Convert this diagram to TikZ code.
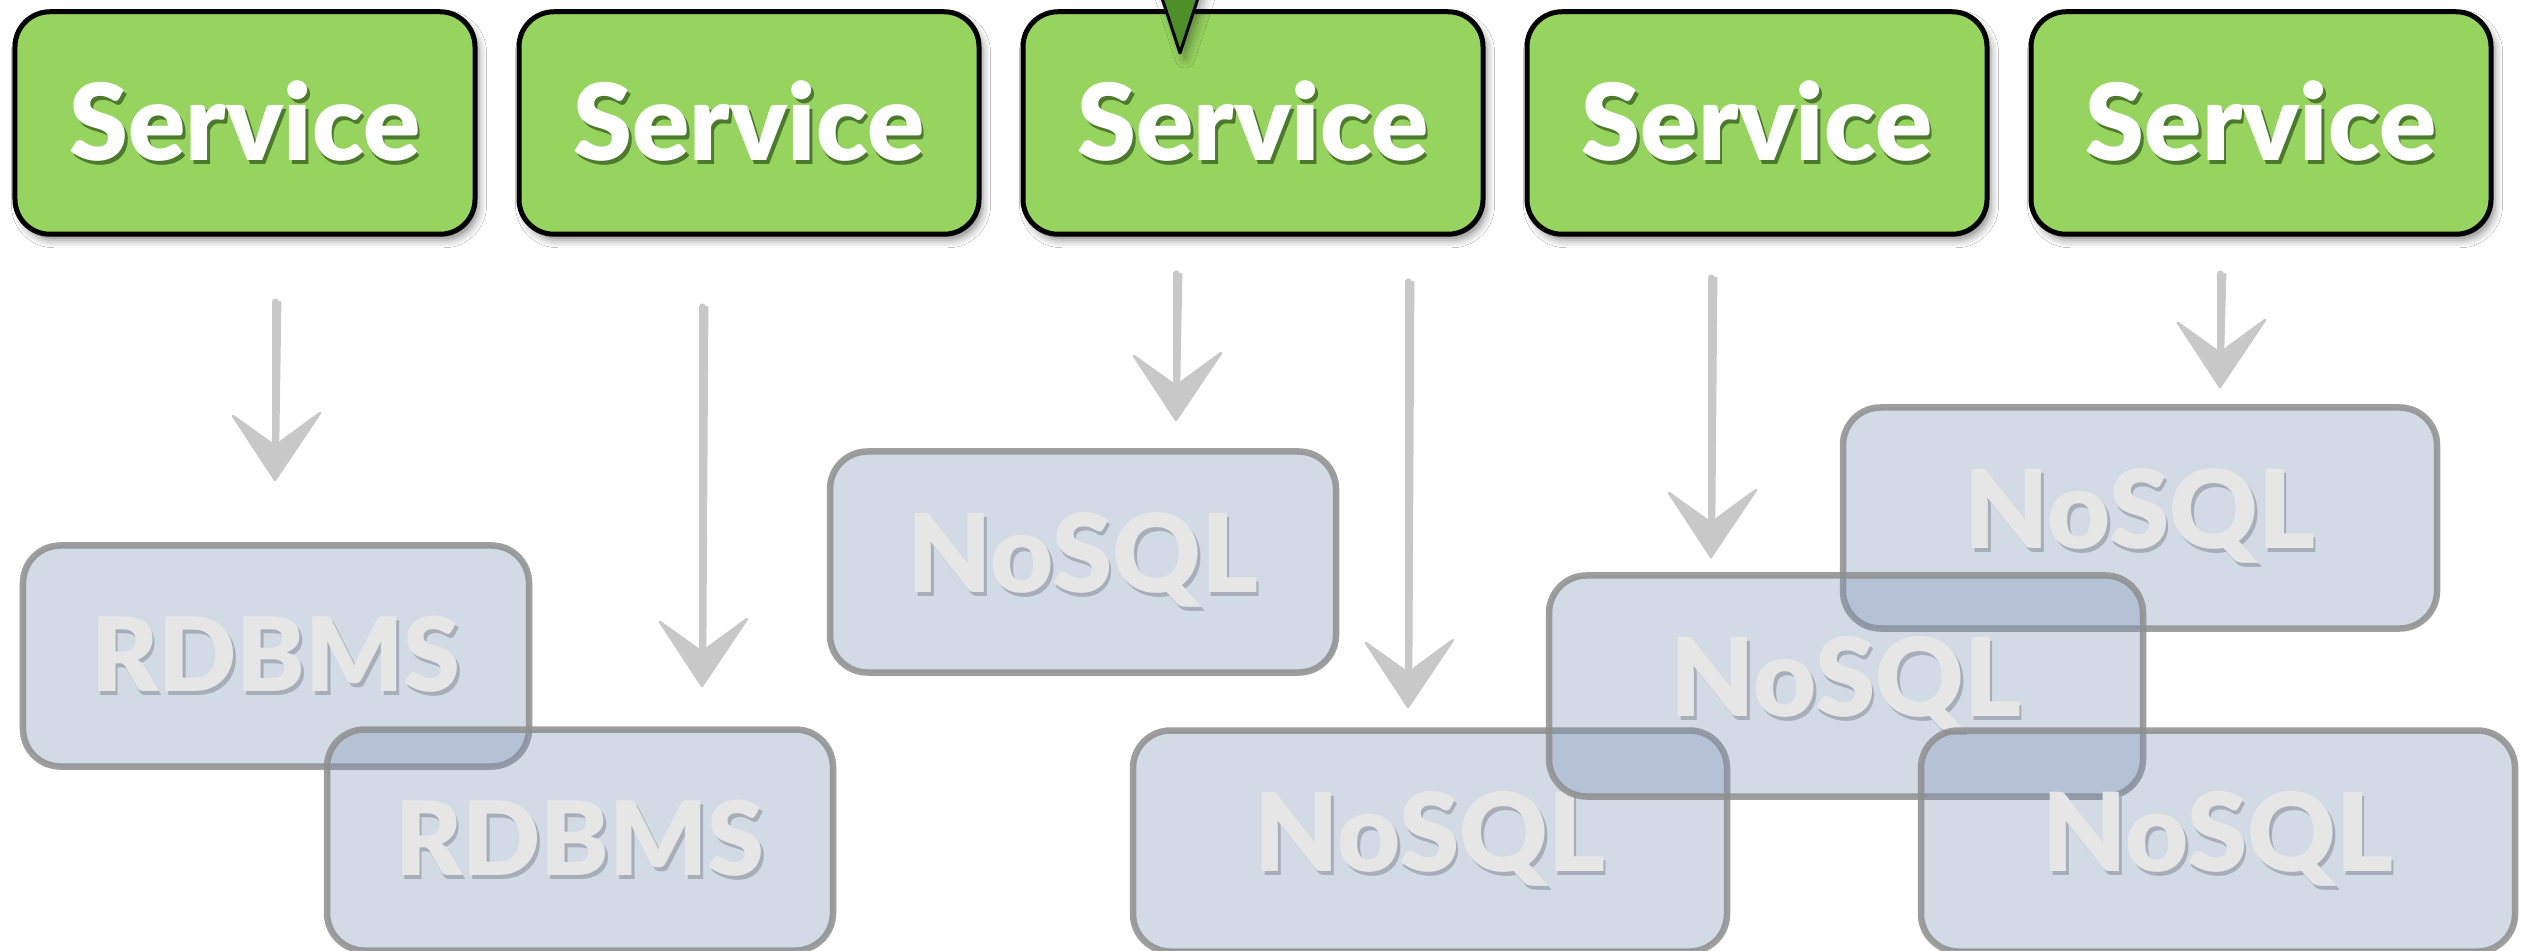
\documentclass[tikz,border=0pt]{standalone}
\usepackage{fontspec}
\setmainfont{Lato}[BoldFont={Lato Black}]
\usetikzlibrary{shadows.blur}

\definecolor{svcgreen}{HTML}{96D35F}
\definecolor{svcshade}{HTML}{4C7A2C}
\definecolor{tipgreen}{HTML}{4F8F2A}
\definecolor{dbfill}{RGB}{127,149,184}
\definecolor{dbline}{HTML}{8E8E8E}
\definecolor{dbtext}{HTML}{E6E6E6}
\definecolor{dbshade}{HTML}{A7AEBA}
\definecolor{arrowgray}{HTML}{C8C8C8}

% text with a dark copy set slightly below and to the right
\newcommand\shadowed[2]{\makebox[0pt][l]{\hspace{1pt}\raisebox{-1.8pt}{\textcolor{#2}{#1}}}#1}

\begin{document}
\begin{tikzpicture}[x=0.4pt,y=-0.4pt,
  svc/.style={draw=black, line width=2pt, fill=svcgreen, rounded corners=14pt,
    minimum width=184pt, minimum height=89pt, inner sep=0pt, text=white,
    font=\fontsize{42.5}{46}\selectfont\bfseries,
    blur shadow={shadow xshift=1.6pt, shadow yshift=-2.4pt, shadow opacity=45, shadow blur radius=3pt}},
  db/.style={draw=dbline, line width=2.6pt, draw opacity=0.85, fill=dbfill, fill opacity=0.35,
    text opacity=1, rounded corners=15pt, minimum height=88.4pt, inner sep=0pt, text=dbtext,
    font=\fontsize{41}{45}\selectfont\bfseries},
  rdb/.style={db, minimum width=202.4pt},
  nosql/.style={db, minimum width=237.6pt, font=\fontsize{43.5}{47}\selectfont\bfseries},
  gshaft/.style={draw=arrowgray, line width=2.8pt, line cap=round},
  gsketch/.style={draw=arrowgray, line width=1.1pt, line cap=round},
  ghead/.style={fill=arrowgray, draw=arrowgray, line width=1pt, line join=round}
]
\useasboundingbox (0,0) rectangle (2531,951);
\fill[white] (0,0) rectangle (2531,951);

% database stores
\node[rdb]   (r1) at (276,656)  {\shadowed{RDBMS}{dbshade}};
\node[rdb]   (r2) at (580,840)  {\shadowed{RDBMS}{dbshade}};
\node[rdb, font=\fontsize{43.5}{47}\selectfont\bfseries] (n1) at (1083,562) {\shadowed{NoSQL}{dbshade}};
\node[nosql] (n2) at (1430,841) {\shadowed{NoSQL}{dbshade}};
\node[nosql] (n4) at (2140,518) {\shadowed{NoSQL}{dbshade}};
\node[nosql] (n3) at (1846,686) {\shadowed{NoSQL}{dbshade}};
\node[nosql] (n5) at (2218,841) {\shadowed{NoSQL}{dbshade}};

% services
\node[svc] (s1) at (245,123)  {\shadowed{Service}{svcshade}};
\node[svc] (s2) at (749,123)  {\shadowed{Service}{svcshade}};
\node[svc] (s3) at (1253,123) {\shadowed{Service}{svcshade}};
\node[svc] (s4) at (1757,123) {\shadowed{Service}{svcshade}};
\node[svc] (s5) at (2261,123) {\shadowed{Service}{svcshade}};

% incoming request arrow tip on the middle service
\coordinate (in) at (1180,53);
\fill[tipgreen, draw=black, line width=1.2pt, line join=round,
  blur shadow={shadow xshift=2pt, shadow yshift=-2pt, shadow opacity=40, shadow blur radius=4pt}]
  (1160,-8) -- (in) -- (1200,-8) -- cycle;

% hand-drawn grey arrows from services towards the stores
\foreach \i/\x/\t/\b in {1/275/302/480, 2/702/307/686, 3/1176/274/420,
                         4/1408/282/707, 5/1711/278/557, 6/2220/274/387} {
  \coordinate (a\i s) at (\x,\t);
  \coordinate (a\i e) at (\x,\b);
  \draw[gshaft] (a\i s) -- ([yshift=14pt]a\i e);
  \draw[gsketch] ([xshift=2pt]a\i s) -- ([xshift=1.2pt,yshift=16pt]a\i e);
  \filldraw[ghead] (a\i e) -- ++(-42,-64) -- ++(42,30) -- ++(45,-33) -- cycle;
}
\end{tikzpicture}
\end{document}
